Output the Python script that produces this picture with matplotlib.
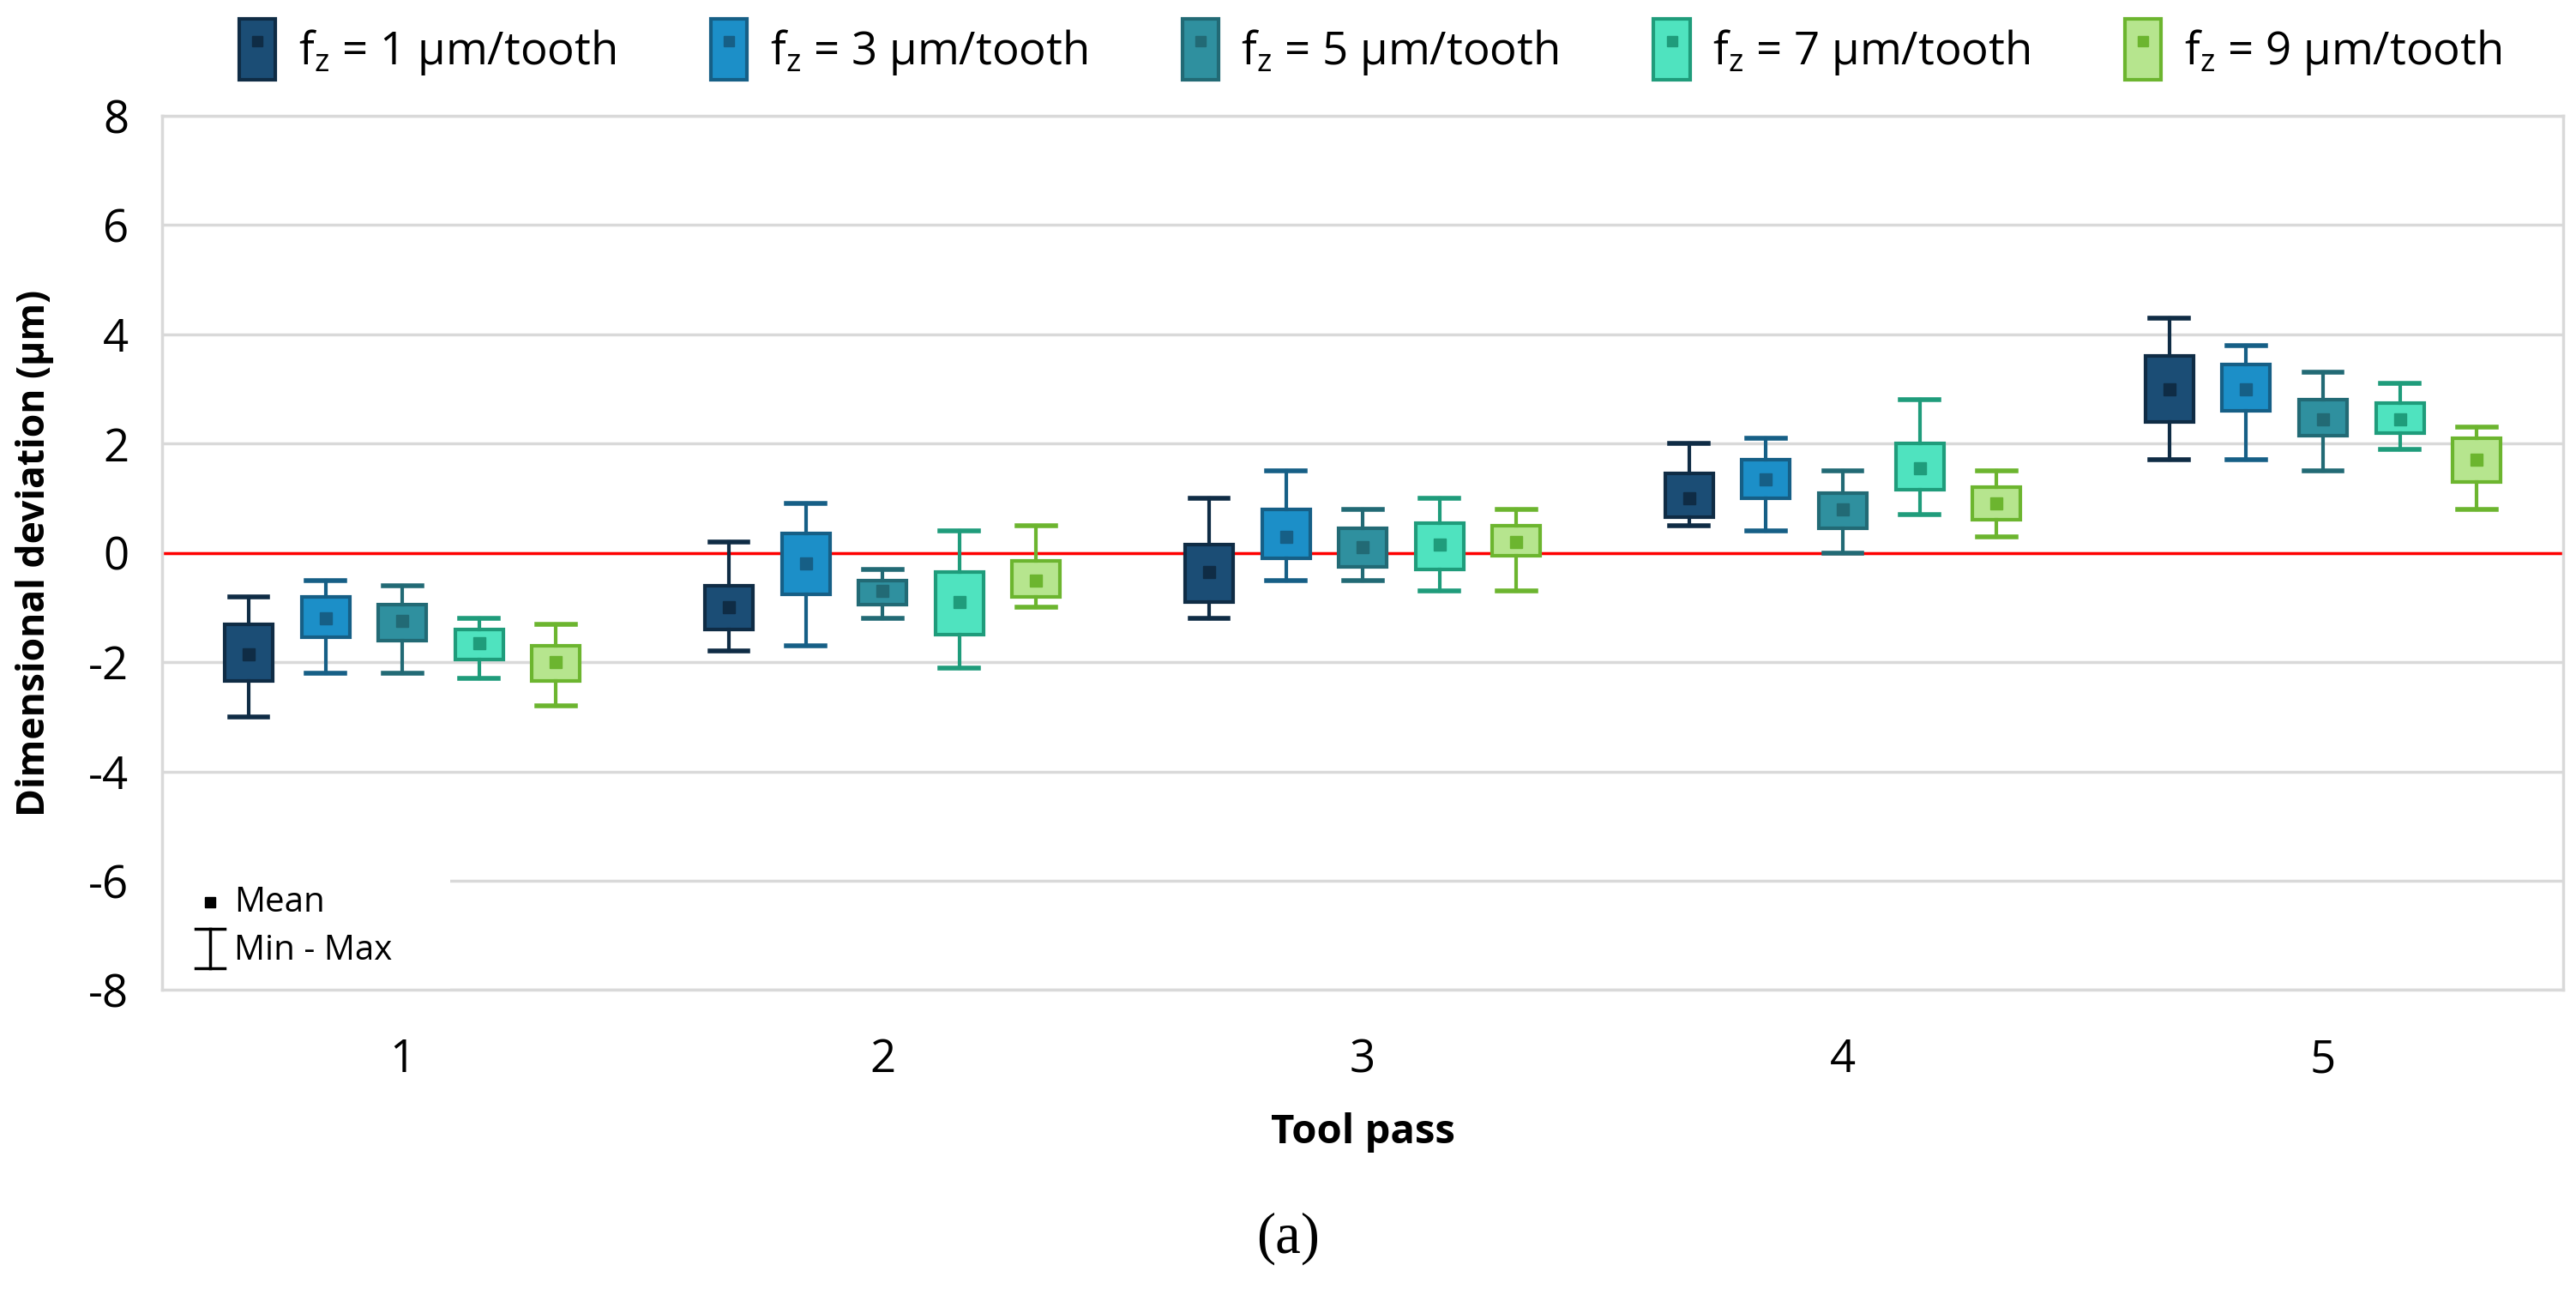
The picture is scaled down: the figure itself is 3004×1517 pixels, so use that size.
import matplotlib
matplotlib.use("Agg")
import matplotlib.pyplot as plt
from matplotlib.patches import Patch, Rectangle
from matplotlib.lines import Line2D

plt.rcParams['font.family'] = ['Open Sans', 'DejaVu Sans']
plt.rcParams['axes.unicode_minus'] = False

passes = [1, 2, 3, 4, 5]
feeds = [1, 3, 5, 7, 9]

# per feed: values for tool pass 1..5
mins = [
    [-3.0, -1.8, -1.2, 0.5, 1.7],
    [-2.2, -1.7, -0.5, 0.4, 1.7],
    [-2.2, -1.2, -0.5, 0.0, 1.5],
    [-2.3, -2.1, -0.7, 0.7, 1.9],
    [-2.8, -1.0, -0.7, 0.3, 0.8],
]
box_lo = [
    [-2.35, -1.4, -0.9, 0.65, 2.4],
    [-1.55, -0.75, -0.1, 1.0, 2.6],
    [-1.6, -0.95, -0.25, 0.45, 2.15],
    [-1.95, -1.5, -0.3, 1.15, 2.2],
    [-2.35, -0.8, -0.05, 0.6, 1.3],
]
means = [
    [-1.85, -1.0, -0.35, 1.0, 3.0],
    [-1.2, -0.2, 0.3, 1.35, 3.0],
    [-1.25, -0.7, 0.1, 0.8, 2.45],
    [-1.65, -0.9, 0.15, 1.55, 2.45],
    [-2.0, -0.5, 0.2, 0.9, 1.7],
]
box_hi = [
    [-1.3, -0.6, 0.15, 1.45, 3.6],
    [-0.8, 0.35, 0.8, 1.7, 3.45],
    [-0.95, -0.5, 0.45, 1.1, 2.8],
    [-1.4, -0.35, 0.55, 2.0, 2.75],
    [-1.7, -0.15, 0.5, 1.2, 2.1],
]
maxs = [
    [-0.8, 0.2, 1.0, 2.0, 4.3],
    [-0.5, 0.9, 1.5, 2.1, 3.8],
    [-0.6, -0.3, 0.8, 1.5, 3.3],
    [-1.2, 0.4, 1.0, 2.8, 3.1],
    [-1.3, 0.5, 0.8, 1.5, 2.3],
]

fills = ["#1b4d75", "#1c8fc8", "#2f909f", "#4fe3bf", "#b6e58e"]
edges = ["#0f2c45", "#165f86", "#226a75", "#1f9c7b", "#6cb52f"]
offsets = [-0.32, -0.16, 0.0, 0.16, 0.32]

fig = plt.figure(figsize=(30.04, 15.17), dpi=100)
ax = fig.add_axes([0.063, 0.239, 0.932, 0.672])

handles = []
labels = []
for i in range(len(feeds)):
    stats = []
    for j in range(len(passes)):
        stats.append(dict(whislo=mins[i][j], q1=box_lo[i][j], med=means[i][j],
                          q3=box_hi[i][j], whishi=maxs[i][j], mean=means[i][j]))
    pos = [p + offsets[i] for p in passes]
    ax.bxp(stats, positions=pos, widths=0.1, capwidths=0.08, patch_artist=True,
           showmeans=True, showfliers=False,
           boxprops=dict(facecolor=fills[i], edgecolor=edges[i], linewidth=3),
           whiskerprops=dict(color=edges[i], linewidth=3),
           capprops=dict(color=edges[i], linewidth=4),
           medianprops=dict(linewidth=0),
           meanprops=dict(marker="s", markersize=10, markerfacecolor=edges[i],
                          markeredgecolor=edges[i]),
           zorder=3)
    h_box = Patch(facecolor=fills[i], edgecolor=edges[i], linewidth=3)
    h_mean = Line2D([], [], marker="s", markersize=8, linestyle="none",
                    color=edges[i])
    handles.append((h_box, h_mean))
    labels.append(r"f$_\mathregular{z}$ = %d µm/tooth" % feeds[i])

ax.axhline(0, color="red", linewidth=2.5, zorder=2)

ax.set_xlim(0.5, 5.5)
ax.set_ylim(-8, 8)
ax.set_yticks(range(-8, 9, 2))
ax.set_xticks(passes)
ax.set_xticklabels([str(p) for p in passes])
ax.tick_params(axis="both", length=0, labelsize=38)
ax.tick_params(axis="x", pad=40)
ax.tick_params(axis="y", pad=28)
ax.grid(axis="y", color="#d9d9d9", linewidth=2.5, zorder=0)
ax.set_axisbelow(True)
for s in ax.spines.values():
    s.set_color("#d9d9d9")
    s.set_linewidth(2.5)

ax.set_xlabel("Tool pass", fontsize=34, fontweight="bold")
ax.xaxis.set_label_coords(0.5, -0.14)
ax.set_ylabel("Dimensional deviation (µm)", fontsize=32, fontweight="bold")
ax.yaxis.set_label_coords(-0.045, 0.5)

# Mean / Min-Max key in lower left corner
ax.add_patch(Rectangle((0.0, 0.0), 0.12, 0.135, transform=ax.transAxes,
                       facecolor="white", edgecolor="none", zorder=2))
ax.plot([0.02], [0.1], transform=ax.transAxes, marker="s", markersize=9,
        color="black", zorder=4)
ax.text(0.03, 0.1, "Mean", transform=ax.transAxes, fontsize=29,
        va="center", zorder=4)
ax.plot([0.02, 0.02], [0.025, 0.07], transform=ax.transAxes,
        color="black", linewidth=2.5, zorder=4)
ax.plot([0.014, 0.026], [0.07, 0.07], transform=ax.transAxes,
        color="black", linewidth=2.5, zorder=4)
ax.plot([0.014, 0.026], [0.025, 0.025], transform=ax.transAxes,
        color="black", linewidth=2.5, zorder=4)
ax.text(0.03, 0.045, "Min - Max", transform=ax.transAxes, fontsize=29,
        va="center", zorder=4)

fig.legend(handles, labels, loc="center", bbox_to_anchor=(0.532, 0.962),
           ncol=5, frameon=False, fontsize=38, handlelength=0.8,
           handleheight=1.7, handletextpad=0.5, columnspacing=2.1)

fig.text(0.5, 0.048, "(a)", fontsize=48, family="Liberation Serif",
         ha="center", va="center")

fig.savefig("out.png", dpi=100, facecolor="white")
